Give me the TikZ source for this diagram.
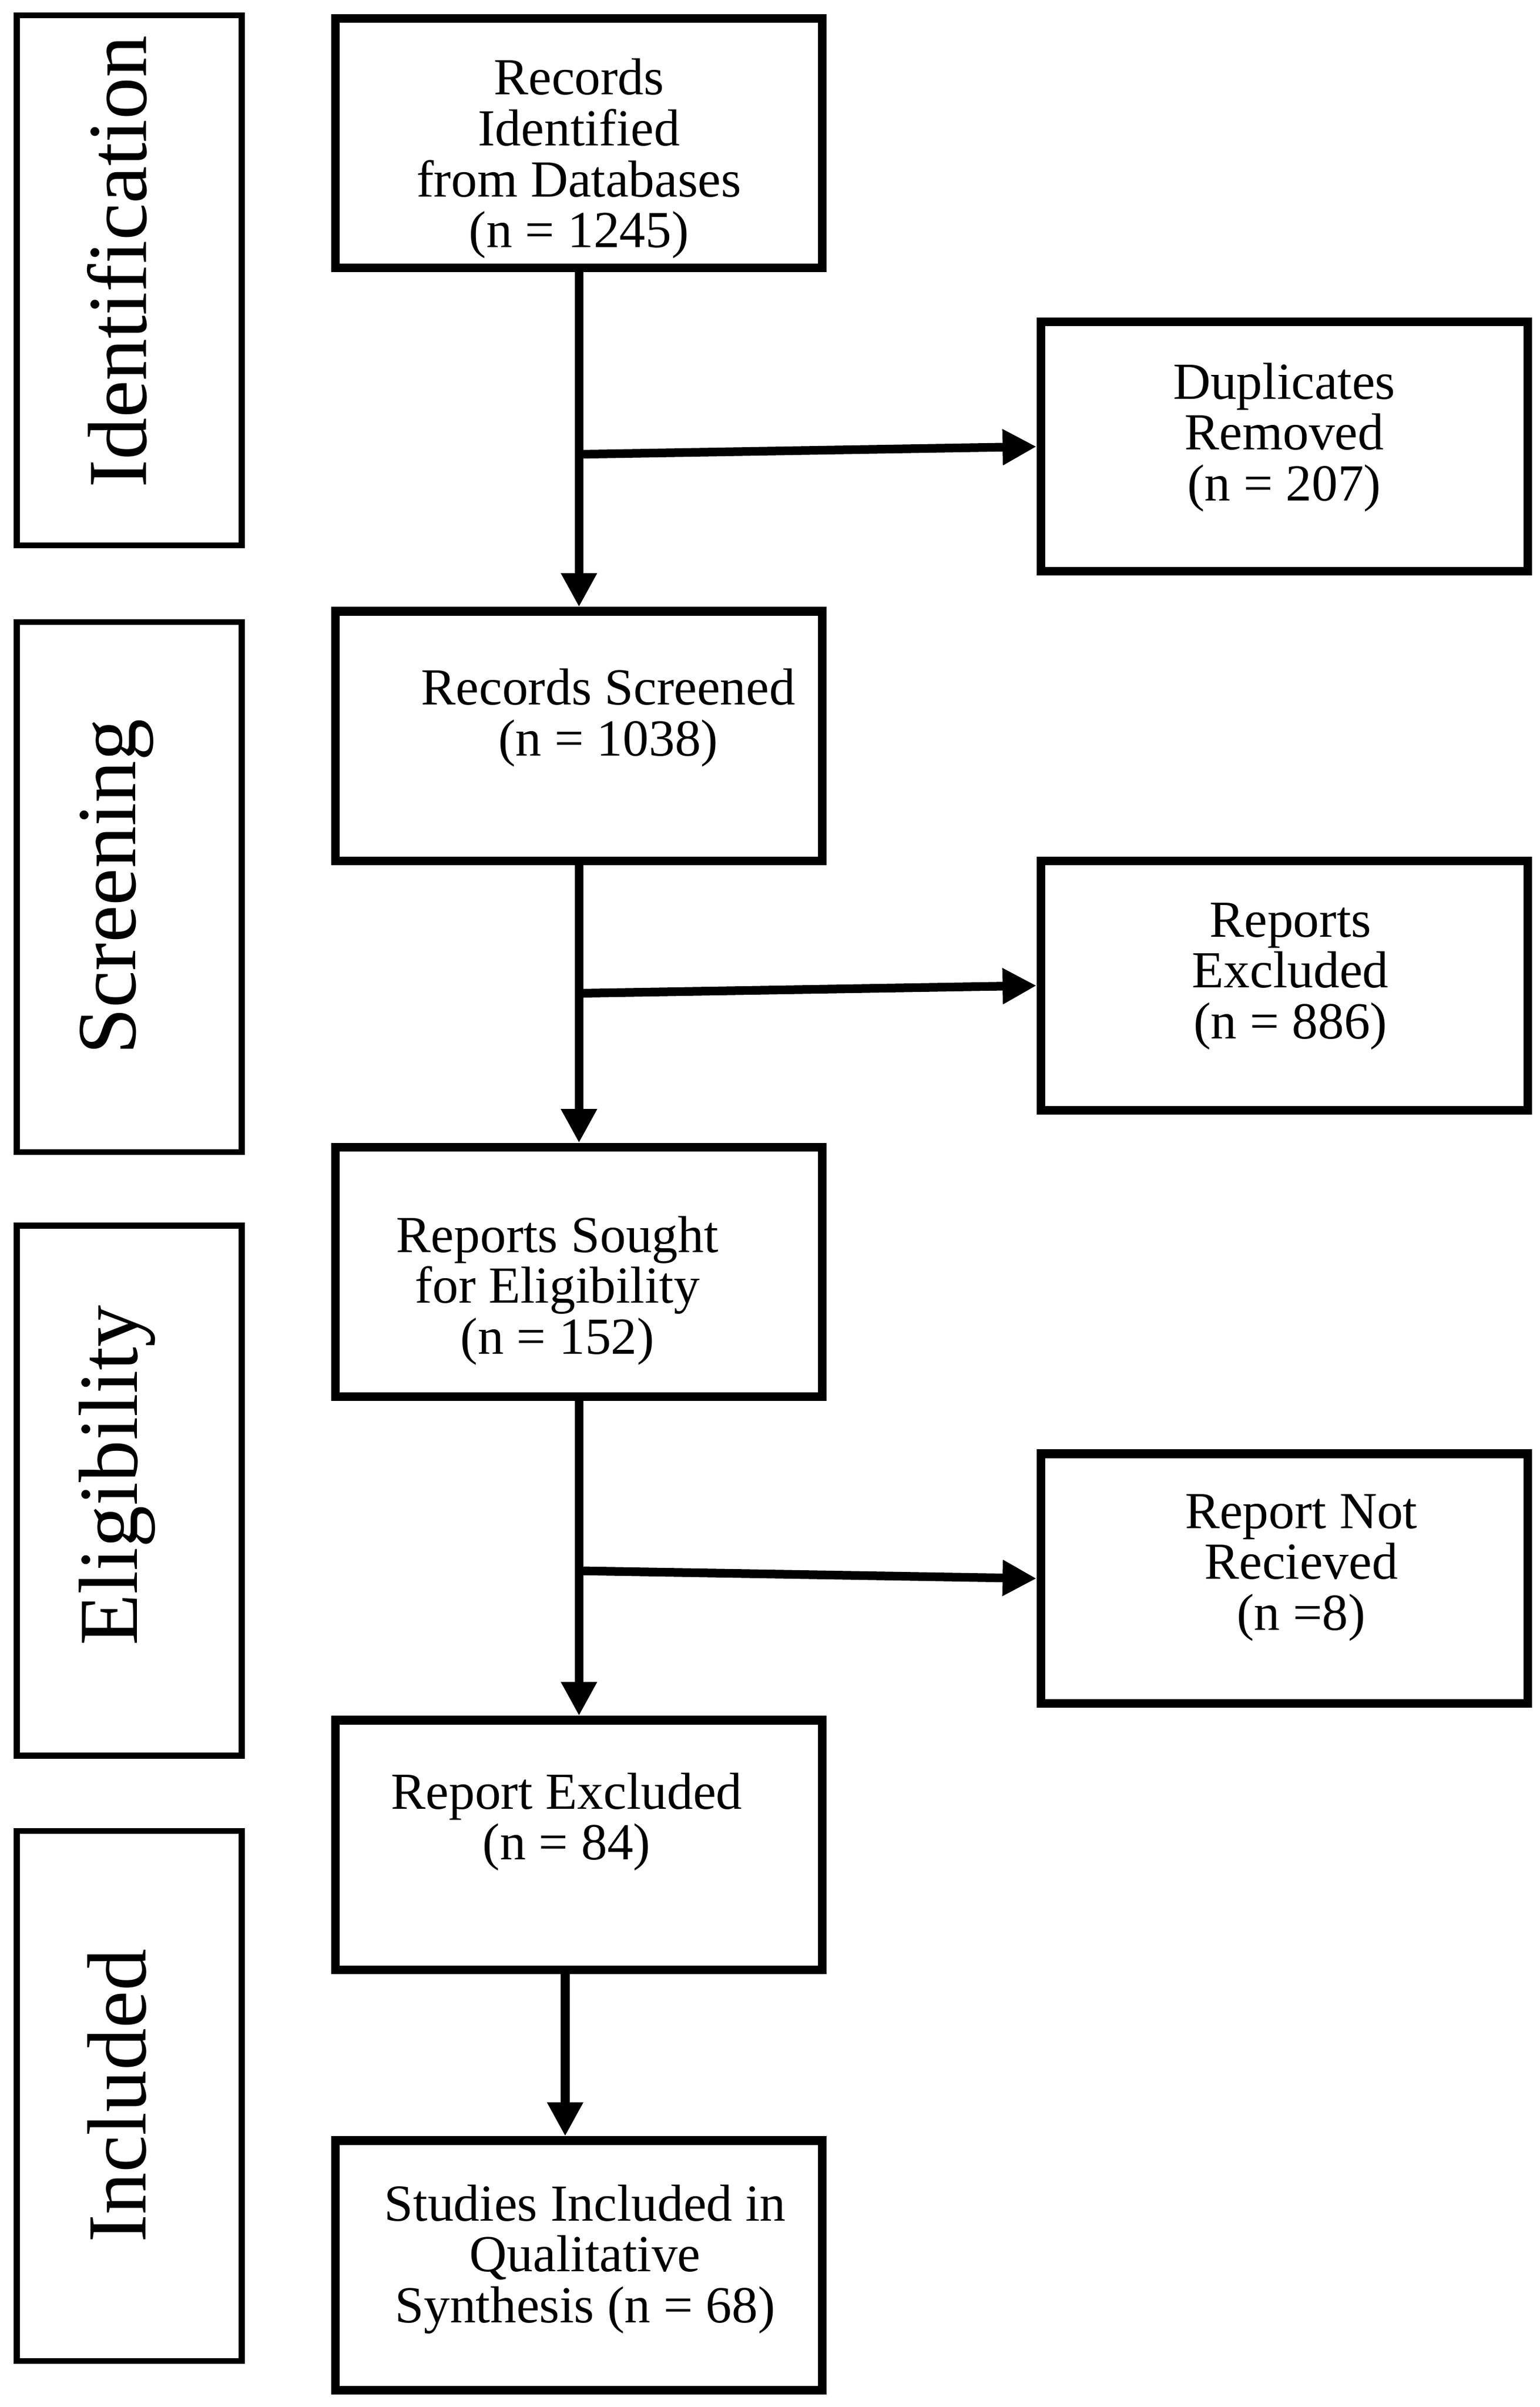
\documentclass[tikz,border=0pt]{standalone}
\usepackage{fontspec}
\setmainfont{Liberation Serif}
\usetikzlibrary{arrows.meta,positioning}

\begin{document}
\begin{tikzpicture}[
  x=0.01cm, y=-0.01cm,
  box/.style={rectangle, draw=black, line width=1.6pt, minimum width=3.16cm, minimum height=1.62cm},
  sidebox/.style={rectangle, draw=black, line width=1.1pt, minimum width=1.46cm, minimum height=3.44cm},
  txt/.style={align=center, font=\fontsize{9.6}{9.4}\selectfont, inner sep=0pt},
  sidetxt/.style={rotate=90, font=\fontsize{15.5}{18}\selectfont},
  arrow/.style={line width=1.6pt, -{Triangle[length=2.2mm, width=2.2mm]}},
  ]
\useasboundingbox (0,0) rectangle (1000,1563);

% phase labels
\node[sidebox] (s1) at (84,182) {};
\node[sidetxt] (t1) at (76,170) {Identification};
\node[sidebox] (s2) at (84,576) {};
\node[sidetxt] (t2) at (76,576) {Screening};
\node[sidebox] (s3) at (84,968) {};
\node[sidetxt] (t3) at (76,958) {Eligibility};
\node[sidebox] (s4) at (84,1361) {};
\node[sidetxt] (t4) at (76,1361) {Included};

% main column
\node[box] (b1) at (376,93) {};
\node[txt] (l1) at (376,103) {Records\\Identified\\from Databases\\(n = 1245)};
\node[box] (b2) at (376,478) {};
\node[txt] (l2) at (395,466) {Records Screened\\(n = 1038)};
\node[box] (b3) at (376,826) {};
\node[txt] (l3) at (362,838) {Reports Sought\\for Eligibility\\(n = 152)};
\node[box] (b4) at (376,1198) {};
\node[txt] (l4) at (368,1183) {Report Excluded\\(n = 84)};
\node[box] (b5) at (376,1471) {};
\node[txt] (l5) at (380,1467) {Studies Included in\\Qualitative\\Synthesis (n = 68)};

% exclusions
\node[box] (r1) at (834,290) {};
\node[txt] (m1) at (834,284) {Duplicates\\Removed\\(n = 207)};
\node[box] (r2) at (834,640) {};
\node[txt] (m2) at (838,634) {Reports\\Excluded\\(n = 886)};
\node[box] (r3) at (834,1025) {};
\node[txt] (m3) at (845,1018) {Report Not\\Recieved\\(n =8)};

\coordinate (j1) at (376,295);
\coordinate (j2) at (376,645);
\coordinate (j3) at (376,1020);

\draw[arrow] (b1) -- (b2);
\draw[arrow] (b2) -- (b3);
\draw[arrow] (b3) -- (b4);
\draw[arrow] (b4.south -| 367,0) -- (b5.north -| 367,0);
\draw[arrow] (j1) -- (r1.west);
\draw[arrow] (j2) -- (r2.west);
\draw[arrow] (j3) -- (r3.west);

\end{tikzpicture}
\end{document}
